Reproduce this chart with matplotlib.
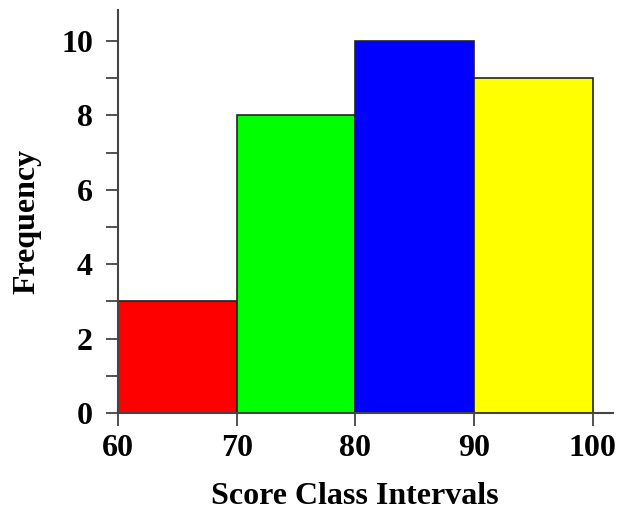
import matplotlib.pyplot as plt
from matplotlib.ticker import MultipleLocator

# class intervals and their frequencies
bin_edges = [60, 70, 80, 90, 100]
frequencies = [3, 8, 10, 9]
bar_colors = ['#ff0000', '#00ff00', '#0000ff', '#ffff00']
x_ticks = [60, 70, 80, 90, 100]
y_ticks = [0, 2, 4, 6, 8, 10]

plt.rcParams['font.family'] = ['Liberation Serif', 'DejaVu Serif']
plt.rcParams['font.weight'] = 'bold'

fig = plt.figure(figsize=(6.18, 5.11), dpi=100)
ax = fig.add_axes([0.191, 0.192, 0.801, 0.788])

lefts = bin_edges[:-1]
widths = [bin_edges[i + 1] - bin_edges[i] for i in range(len(lefts))]
ax.bar(lefts, frequencies, width=widths, align='edge', color=bar_colors,
       edgecolor='#222222', linewidth=1.2, zorder=2)

ax.set_xlim(60, 101.7)
ax.set_ylim(0, 10.83)
ax.set_xticks(x_ticks)
ax.set_yticks(y_ticks)
ax.yaxis.set_minor_locator(MultipleLocator(1))

for side in ['top', 'right']:
    ax.spines[side].set_visible(False)
for side in ['left', 'bottom']:
    ax.spines[side].set_color('#444444')
    ax.spines[side].set_linewidth(1.5)

ax.tick_params(axis='both', which='both', direction='out', length=9,
               width=1.3, color='#444444', labelsize=23, pad=9)
ax.tick_params(axis='x', pad=6)

ax.set_xlabel('Score Class Intervals', fontsize=23, fontweight='bold', labelpad=14)
ax.set_ylabel('Frequency', fontsize=23, fontweight='bold', labelpad=14)
ax.xaxis.label.set_x(0.479)
ax.yaxis.label.set_y(0.475)

fig.savefig('out.png', dpi=100)
